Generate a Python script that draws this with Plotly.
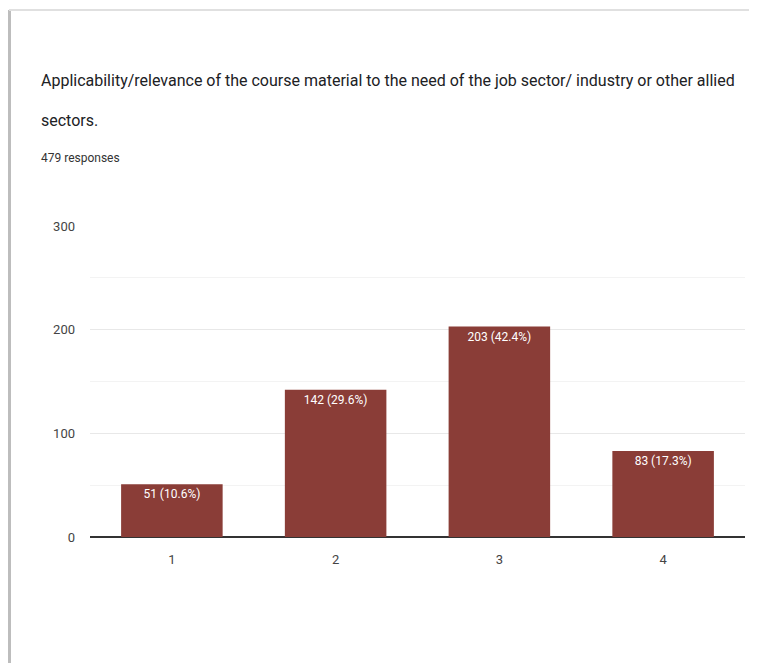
import plotly.graph_objects as go

categories = ["1", "2", "3", "4"]
counts = [51, 142, 203, 83]
percent = [10.6, 29.6, 42.4, 17.3]
title_line1 = " Applicability/relevance of the course material to the need of the job sector/ industry or other allied"
title_line2 = "sectors."
subtitle = "479 responses"

# page body has an 8px margin; figure sized so the page does not overflow the window
OFF = 8
W, H = 757 - 2 * OFF, 671 - 2 * OFF
ML, MT = 90 - OFF, 226 - OFF
MR = W - (745 - OFF)
MB = H - (537 - OFF)
PW, PH = W - ML - MR, H - MT - MB

def px(x):
    return (x - OFF - ML) / PW

def py(y):
    return (H - MB - (y - OFF)) / PH

FONT = "Roboto, Arial, sans-serif"

labels = [f"{c} ({p}%)" for c, p in zip(counts, percent)]

fig = go.Figure(go.Bar(
    x=categories, y=counts, text=labels,
    textposition="inside", insidetextanchor="end",
    textfont=dict(color="white", size=12, family=FONT),
    marker=dict(color="#8A3D37", line=dict(width=0)),
    width=0.62,
    hoverinfo="skip",
))

fig.update_layout(
    width=W, height=H,
    margin=dict(l=ML, r=MR, t=MT, b=MB),
    paper_bgcolor="white", plot_bgcolor="white",
    showlegend=False,
    font=dict(family=FONT, color="#444"),
    xaxis=dict(type="category", showgrid=False, showline=False, ticks="",
               tickfont=dict(size=13, color="#444", family=FONT), ticklabelstandoff=13),
    yaxis=dict(range=[0, 300], tickvals=[0, 100, 200, 300], showgrid=True,
               gridcolor="#E8E8E8", gridwidth=1,
               minor=dict(tickvals=[50, 150, 250], showgrid=True, gridcolor="#F3F3F3"),
               zeroline=True, zerolinecolor="#333333", zerolinewidth=1.5,
               showline=False, ticks="", tickfont=dict(size=13, color="#444", family=FONT),
               ticklabelstandoff=14),
    shapes=[
        dict(type="line", xref="paper", yref="paper",
             x0=px(9.5), x1=px(9.5), y0=py(10), y1=py(670),
             line=dict(color="#BDBDBD", width=3), layer="below"),
        dict(type="line", xref="paper", yref="paper",
             x0=px(9), x1=px(757), y0=py(10), y1=py(10),
             line=dict(color="#E0E0E0", width=2), layer="below"),
    ],
    annotations=[
        dict(text=title_line1, xref="paper", yref="paper", x=px(35), y=py(80),
             xanchor="left", yanchor="middle", showarrow=False,
             font=dict(size=16, color="#202124", family=FONT)),
        dict(text=title_line2, xref="paper", yref="paper", x=px(39), y=py(120),
             xanchor="left", yanchor="middle", showarrow=False,
             font=dict(size=16, color="#202124", family=FONT)),
        dict(text=subtitle, xref="paper", yref="paper", x=px(39), y=py(158),
             xanchor="left", yanchor="middle", showarrow=False,
             font=dict(size=12, color="#333", family=FONT)),
    ],
)

fig.write_html("out.html")
